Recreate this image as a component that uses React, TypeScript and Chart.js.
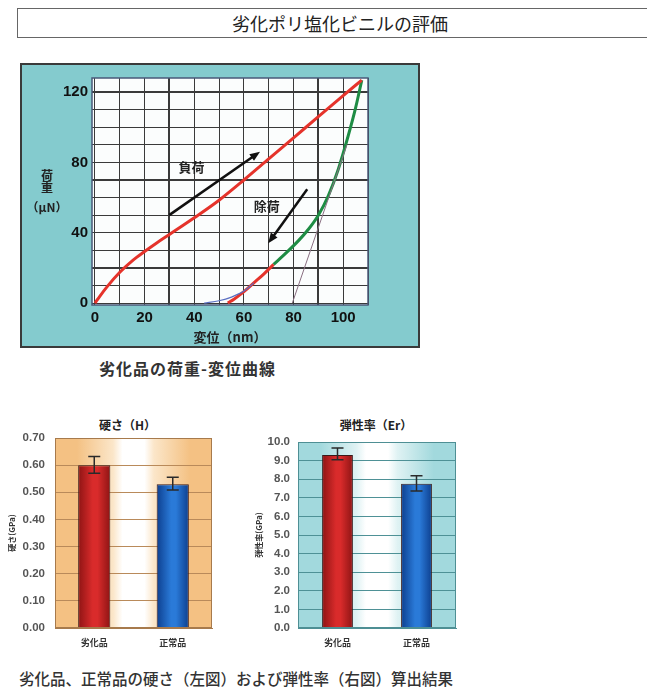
import React, { useEffect, useRef } from 'react';
import { Chart, registerables } from 'chart.js';
Chart.register(...registerables);

// ---------- Data: load–displacement curve (x: nm, y: µN) ----------
const loadingCurve: number[][] = [[0, 0], [2, 4], [5, 9.5], [10, 17.5], [15, 24], [20, 29.3], [25, 34.3], [30, 39], [40, 48.5], [50, 58.5], [60, 70], [70, 82], [80, 94], [90, 106], [100, 118], [107.5, 126.8]];
const unloadingRed: number[][] = [[53.5, 0], [56, 2.2], [60, 6.5], [64, 11.5], [68, 16.5], [72, 22]];
const unloadingGreen: number[][] = [[72, 22], [77, 28.5], [82, 35.5], [86, 42], [90, 50], [94, 61], [98, 76], [102, 95], [105, 111], [107.5, 126.8]];
const fitCurve: number[][] = [[44, 0], [50, 1.3], [55, 3.4], [60, 6.8], [64, 11.5]];
const tangentLine: number[][] = [[79.5, 0], [101.5, 90]];
const arrowLoad: number[][] = [[29.9, 50], [66.5, 86.1]];
const arrowUnload: number[][] = [[85.5, 64.7], [69.8, 34]];
const labelLoad = { text: '負荷', x: 38.9, y: 77.5 };
const labelUnload = { text: '除荷', x: 69.2, y: 55.2 };
const xGridValues = [0, 10, 20, 30, 40, 50, 60, 70, 80, 90, 100, 110];
const yGridValues = [0, 10, 20, 30, 40, 50, 60, 70, 80, 90, 100, 110, 120];

// ---------- Data: bar charts ----------
const categories = ['劣化品', '正常品'];
const hardness = [0.60, 0.53];
const hardnessLow = [0.57, 0.508];
const hardnessHigh = [0.632, 0.555];
const modulus = [9.3, 7.75];
const modulusLow = [9.05, 7.37];
const modulusHigh = [9.68, 8.18];

const NUM_FONT = '"Liberation Sans", Arial, sans-serif';
const JP_FONT = '"Noto Sans CJK JP", "Noto Sans", sans-serif';

const toXY = (a: number[][]) => a.map(([x, y]) => ({ x, y }));

function drawArrow(ctx: CanvasRenderingContext2D, x1: number, y1: number, x2: number, y2: number) {
  const ang = Math.atan2(y2 - y1, x2 - x1);
  const head = 11;
  const bx = x2 - head * 0.8 * Math.cos(ang);
  const by = y2 - head * 0.8 * Math.sin(ang);
  ctx.beginPath();
  ctx.moveTo(x1, y1);
  ctx.lineTo(bx, by);
  ctx.stroke();
  ctx.beginPath();
  ctx.moveTo(x2, y2);
  ctx.lineTo(x2 - head * Math.cos(ang - 0.38), y2 - head * Math.sin(ang - 0.38));
  ctx.lineTo(x2 - head * Math.cos(ang + 0.38), y2 - head * Math.sin(ang + 0.38));
  ctx.closePath();
  ctx.fill();
}

function makeBarChart(
  canvas: HTMLCanvasElement,
  values: number[], low: number[], high: number[],
  opts: { max: number; step: number; digits: number; yTitle: string; edge: string; mid: string; grid: string; border: string; pad: { left: number; right: number; top: number; bottom: number }; yWidth: number; tickPad: number; barPct: number }
) {
  const barColors = [
    ['#8e1414', '#d92b2b'],
    ['#0d3f8f', '#2a7ad8'],
  ];
  const bgPlugin = {
    id: 'plotBg',
    beforeDraw(chart: any) {
      const { ctx, chartArea: a } = chart;
      const g = ctx.createLinearGradient(a.left, 0, a.right, 0);
      g.addColorStop(0, opts.edge);
      g.addColorStop(0.14, opts.edge);
      g.addColorStop(0.37, opts.mid);
      g.addColorStop(0.43, '#ffffff');
      g.addColorStop(0.57, '#ffffff');
      g.addColorStop(0.63, opts.mid);
      g.addColorStop(0.86, opts.edge);
      g.addColorStop(1, opts.edge);
      ctx.save();
      ctx.fillStyle = g;
      ctx.fillRect(a.left, a.top, a.right - a.left, a.bottom - a.top);
      ctx.restore();
    },
    afterDatasetsDraw(chart: any) {
      const { ctx, chartArea: a } = chart;
      const xs = chart.scales.x;
      const ys = chart.scales.y;
      ctx.save();
      ctx.strokeStyle = '#2a2a2a';
      ctx.lineWidth = 1.5;
      for (let i = 0; i < values.length; i++) {
        const cx = xs.getPixelForValue(i);
        const yl = ys.getPixelForValue(low[i]);
        const yh = ys.getPixelForValue(high[i]);
        ctx.beginPath();
        ctx.moveTo(cx, yl); ctx.lineTo(cx, yh);
        ctx.moveTo(cx - 6, yh); ctx.lineTo(cx + 6, yh);
        ctx.moveTo(cx - 6, yl); ctx.lineTo(cx + 6, yl);
        ctx.stroke();
      }
      ctx.strokeStyle = opts.border;
      ctx.lineWidth = 1;
      ctx.strokeRect(a.left + 0.5, a.top + 0.5, a.right - a.left - 1, a.bottom - a.top - 1);
      ctx.restore();
    },
  };
  return new Chart(canvas, {
    type: 'bar',
    data: {
      labels: categories,
      datasets: [{
        data: values,
        backgroundColor: (c: any) => {
          const chart = c.chart;
          const i = c.dataIndex ?? 0;
          const [dark, light] = barColors[i % 2];
          const xs = chart.scales?.x;
          if (!chart.chartArea || !xs) return light;
          const cw = (xs.right - xs.left) / categories.length;
          const w = cw * opts.barPct;
          const cx = xs.getPixelForValue(i);
          const g = chart.ctx.createLinearGradient(cx - w / 2, 0, cx + w / 2, 0);
          g.addColorStop(0, dark);
          g.addColorStop(0.45, light);
          g.addColorStop(0.6, light);
          g.addColorStop(1, dark);
          return g;
        },
        borderColor: '#3a1a1a',
        borderWidth: 1,
        barPercentage: opts.barPct,
        categoryPercentage: 1,
      }],
    },
    options: {
      responsive: false,
      animation: false,
      devicePixelRatio: 1,
      layout: { padding: opts.pad },
      plugins: { legend: { display: false }, tooltip: { enabled: false } },
      scales: {
        x: {
          grid: { display: false, drawTicks: false },
          border: { display: true, color: opts.border },
          ticks: { font: { family: JP_FONT, size: 9, weight: 'bold' }, color: '#333', padding: 9, maxRotation: 0 },
          afterFit: (s: any) => { s.height = 27; },
        },
        y: {
          min: 0,
          max: opts.max,
          grid: { color: opts.grid, lineWidth: 1, drawTicks: false },
          border: { display: true, color: opts.border },
          ticks: {
            stepSize: opts.step,
            padding: opts.tickPad,
            color: '#555',
            font: { family: NUM_FONT, size: 11.5, weight: 'bold' },
            callback: (v: any) => Number(v).toFixed(opts.digits),
          },
          title: { display: true, text: opts.yTitle, padding: 0, color: '#333', font: { family: JP_FONT, size: 8, weight: 'bold' } },
          afterFit: (s: any) => { s.width = opts.yWidth; },
        },
      },
    },
    plugins: [bgPlugin],
  } as any);
}

export default function App() {
  const topRef = useRef<HTMLCanvasElement>(null);
  const leftRef = useRef<HTMLCanvasElement>(null);
  const rightRef = useRef<HTMLCanvasElement>(null);

  useEffect(() => {
    const topPlugin = {
      id: 'topDecor',
      beforeDraw(chart: any) {
        const { ctx, chartArea: a } = chart;
        ctx.save();
        ctx.fillStyle = '#fbfdfd';
        ctx.fillRect(a.left, a.top, a.right - a.left, a.bottom - a.top);
        ctx.restore();
      },
      afterDatasetsDraw(chart: any) {
        const { ctx } = chart;
        const xs = chart.scales.x;
        const ys = chart.scales.y;
        const px = (p: number[]) => [xs.getPixelForValue(p[0]), ys.getPixelForValue(p[1])];
        ctx.save();
        ctx.strokeStyle = '#111';
        ctx.fillStyle = '#111';
        ctx.lineWidth = 2.5;
        for (const arr of [arrowLoad, arrowUnload]) {
          const [x1, y1] = px(arr[0]);
          const [x2, y2] = px(arr[1]);
          drawArrow(ctx, x1, y1, x2, y2);
        }
        ctx.font = `bold 13px ${JP_FONT}`;
        ctx.textAlign = 'center';
        ctx.textBaseline = 'middle';
        ctx.fillStyle = '#222';
        for (const l of [labelLoad, labelUnload]) {
          ctx.fillText(l.text, xs.getPixelForValue(l.x), ys.getPixelForValue(l.y));
        }
        ctx.restore();
      },
      afterDraw(chart: any) {
        const { ctx, chartArea: a } = chart;
        ctx.save();
        ctx.strokeStyle = '#4a5a7a';
        ctx.lineWidth = 1.5;
        ctx.strokeRect(a.left, a.top, a.right - a.left, a.bottom - a.top);
        ctx.restore();
      },
    };
    const lineDs = (data: number[][], color: string, width: number) => ({
      data: toXY(data), borderColor: color, borderWidth: width, pointRadius: 0,
      cubicInterpolationMode: 'monotone', fill: false,
    });
    const top = new Chart(topRef.current!, {
      type: 'line',
      data: {
        datasets: [
          lineDs(tangentLine, '#8a6f82', 1),
          lineDs(fitCurve, '#5a6fc2', 1.2),
          lineDs(loadingCurve, '#e5332b', 3),
          lineDs(unloadingGreen, '#1e8c44', 3),
          lineDs(unloadingRed, '#e5332b', 3),
        ],
      },
      options: {
        responsive: false,
        animation: false,
        devicePixelRatio: 1,
        layout: { padding: { left: 12, right: 52, top: 15, bottom: 0 } },
        plugins: { legend: { display: false }, tooltip: { enabled: false } },
        scales: {
          x: {
            type: 'linear',
            min: -1.2,
            max: 110,
            afterBuildTicks: (s: any) => { s.ticks = xGridValues.map((v) => ({ value: v })); },
            grid: { color: '#3a3a3a', lineWidth: (c: any) => (c.tick && (c.tick.value === 30 || c.tick.value === 90) ? 2 : 1), drawTicks: false },
            border: { display: false },
            ticks: {
              autoSkip: false, maxRotation: 0, padding: 4, color: '#111',
              font: { family: NUM_FONT, size: 15, weight: 'bold' },
              callback: (v: any) => (Number(v) % 20 === 0 ? String(v) : ''),
            },
            title: { display: true, text: '変位（nm）', padding: { top: 0, bottom: 3 }, color: '#222', font: { family: JP_FONT, size: 13, weight: 'bold' } },
            afterFit: (s: any) => { s.height = 43; },
          },
          y: {
            type: 'linear',
            min: -1.1,
            max: 128,
            afterBuildTicks: (s: any) => { s.ticks = yGridValues.map((v) => ({ value: v })); },
            grid: { color: '#3a3a3a', lineWidth: (c: any) => (c.tick && [20, 70, 120].includes(c.tick.value) ? 2 : 1), drawTicks: false },
            border: { display: false },
            ticks: {
              autoSkip: false, padding: 4, color: '#111',
              font: { family: NUM_FONT, size: 15, weight: 'bold' },
              callback: (v: any) => (Number(v) % 40 === 0 ? String(v) : ''),
            },
            afterFit: (s: any) => { s.width = 60; },
          },
        },
      },
      plugins: [topPlugin],
    } as any);

    const left = makeBarChart(leftRef.current!, hardness, hardnessLow, hardnessHigh, {
      max: 0.7, step: 0.1, digits: 2, yTitle: '硬さ(GPa)', edge: '#f4c183', mid: '#fbe6c9', grid: '#b98a5a', border: '#a77a4c',
      pad: { left: 7, right: 33, top: 33, bottom: 0 }, yWidth: 48, tickPad: 10, barPct: 0.41,
    });
    const right = makeBarChart(rightRef.current!, modulus, modulusLow, modulusHigh, {
      max: 10, step: 1, digits: 1, yTitle: '弾性率(GPa)', edge: '#a2d9dd', mid: '#dff2f3', grid: '#4e9196', border: '#4e8f94',
      pad: { left: 9, right: 9, top: 37, bottom: 0 }, yWidth: 44, tickPad: 8, barPct: 0.39,
    });
    return () => { top.destroy(); left.destroy(); right.destroy(); };
  }, []);

  const abs = (l: number, t: number, extra: React.CSSProperties = {}): React.CSSProperties => ({ position: 'absolute', left: l, top: t, ...extra });

  return (
    <div style={{ position: 'absolute', left: 0, top: 0, width: 647, height: 689, overflow: 'hidden', background: '#fff', fontFamily: JP_FONT }}>
      <div style={abs(17, 8, { width: 646, height: 30, border: '1px solid #666', boxSizing: 'border-box', display: 'flex', alignItems: 'center', justifyContent: 'center', fontSize: 18, color: '#222' })}>
        劣化ポリ塩化ビニルの評価
      </div>

      <div style={abs(20, 63, { width: 400, height: 285, background: '#84cbce', border: '2px solid #3a3a3a', boxSizing: 'border-box' })} />
      <canvas ref={topRef} width={400} height={285} style={abs(20, 63, { width: 400, height: 285 })} />
      <div style={abs(27, 169, { width: 40, textAlign: 'center', fontSize: 12, fontWeight: 700, lineHeight: '12px', color: '#222' })}>荷</div>
      <div style={abs(27, 181, { width: 40, textAlign: 'center', fontSize: 12, fontWeight: 700, lineHeight: '12px', color: '#222' })}>重</div>
      <div style={abs(22, 200, { width: 50, textAlign: 'center', fontSize: 12, fontWeight: 700, lineHeight: '14px', color: '#222' })}>（µN）</div>

      <div style={abs(99, 357, { fontSize: 16, fontWeight: 700, color: '#333', lineHeight: '22px', whiteSpace: 'nowrap', letterSpacing: 1 })}>劣化品の荷重-変位曲線</div>

      <div style={abs(0, 416, { width: 255, textAlign: 'center', fontSize: 12, fontWeight: 700, color: '#222', lineHeight: '18px' })}>硬さ（H）</div>
      <div style={abs(290, 416, { width: 172, textAlign: 'center', fontSize: 12, fontWeight: 700, color: '#222', lineHeight: '18px' })}>弾性率（Er）</div>
      <canvas ref={leftRef} width={245} height={250} style={abs(0, 405, { width: 245, height: 250 })} />
      <canvas ref={rightRef} width={220} height={250} style={abs(245, 405, { width: 220, height: 250 })} />

      <div style={abs(19, 666, { fontSize: 15.5, fontWeight: 500, color: '#333', lineHeight: '24px', whiteSpace: 'nowrap' })}>
        劣化品、正常品の硬さ（左図）および弾性率（右図）算出結果
      </div>
    </div>
  );
}
